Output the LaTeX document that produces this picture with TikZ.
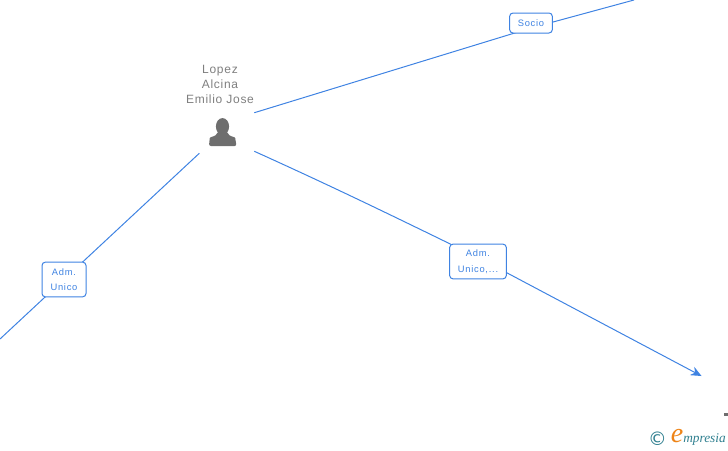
\documentclass[tikz,border=0pt]{standalone}
\usepackage{fontspec}
\setmainfont{Liberation Sans}
\newfontfamily\namefont[LetterSpace=6]{Liberation Sans}
\newfontfamily\relfont[LetterSpace=8]{Liberation Sans}
\newfontfamily\logofont{Liberation Serif}
\newfontfamily\symfont{DejaVu Sans}
\usetikzlibrary{arrows.meta, backgrounds}
\definecolor{edgeblue}{HTML}{3F83E2}
\definecolor{namegray}{HTML}{7F7F7F}
\definecolor{icongray}{HTML}{6E6E6E}
\definecolor{logoteal}{HTML}{2F7F8F}
\definecolor{logoorange}{HTML}{EE8418}

\begin{document}
\begin{tikzpicture}[
  x=0.75pt, y=-0.75pt,
  rel/.style={draw=edgeblue, line width=0.75pt, rounded corners=2.5pt, fill=white,
    font=\relfont\fontsize{7}{11.6}\selectfont, text=edgeblue, align=center,
    inner sep=0pt},
  flow/.style={draw=edgeblue, line width=0.75pt},
  persname/.style={font=\namefont\fontsize{9}{11.2}\selectfont, text=namegray, align=center,
    inner sep=0pt},
]
\useasboundingbox (0,0) rectangle (728,450);

% Person
\node[persname] (name) at (220,84) {Lopez\\Alcina\\Emilio Jose};
\node[minimum width=48pt, minimum height=28.5pt, inner sep=0pt] (pers) at (222,132) {};
\fill[icongray] (222.5,126.5) ellipse (6.6 and 8.4);
\fill[icongray, rounded corners=1.5pt] (209,146) -- (209.5,140) .. controls (210,136.5) and (216,137) .. (218,131)
  -- (227,131) .. controls (229,137) and (235,136.5) .. (235.5,140) -- (236.5,146) -- cycle;

% Labels
\node[rel, minimum width=32pt, minimum height=15pt] (socio) at (531,23) {Socio};
\node[rel, minimum width=33pt, minimum height=26pt] (unico) at (64,279.5) {Adm.\\Unico};
\node[rel, minimum width=42.5pt, minimum height=26pt] (unicoB) at (478,261.5) {Adm.\\Unico,...};

% Free ends
\coordinate (endSocio) at (634,0);
\coordinate (endUnico) at (0,339);
\coordinate (endArrow) at (701.5,376);

% Flows
\begin{scope}[on background layer]
\draw[flow] (pers.north east) -- ([yshift=-3.75]socio.center) -- (endSocio);
\draw[flow] ([shift={(-2,2)}]pers.-137) -- (endUnico);
\draw[flow, -{Stealth[length=8pt, width=7pt]}] (pers.south east) .. controls (340,190) and (400,219.5) .. ([yshift=3]unicoB.center) -- (endArrow);
\end{scope}

% Cut off node at the right
\node[fill=icongray, minimum width=3pt, minimum height=2pt, inner sep=0pt] (cut) at (726,414.5) {};

% Logo
\node[inner sep=0pt, text=logoteal, font=\symfont\fontsize{14}{14}\selectfont] (logoC) at (657.5,438.5) {©};
\node[inner sep=0pt, text=logoorange, font=\logofont\itshape\fontsize{21}{21}\selectfont] (logoE) at (677,436.5) {e};
\node[inner sep=0pt, anchor=base west, text=logoteal, font=\logofont\itshape\fontsize{10}{10}\selectfont] (logoT) at (683,442) {mpresia};
\end{tikzpicture}
\end{document}
